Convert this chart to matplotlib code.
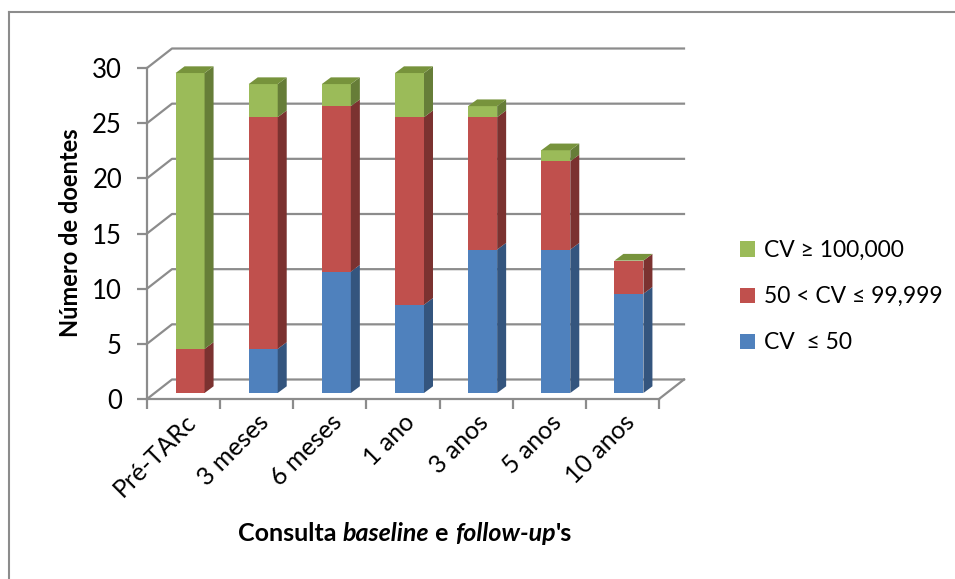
import matplotlib.pyplot as plt
import numpy as np
from matplotlib.patches import Polygon, Patch
from matplotlib.lines import Line2D

categories = ["Pré-TARc", "3 meses", "6 meses", "1 ano", "3 anos", "5 anos", "10 anos"]
cv_low = [0, 4, 11, 8, 13, 13, 9]      # CV <= 50
cv_mid = [4, 21, 15, 17, 12, 8, 3]     # 50 < CV <= 99,999
cv_high = [25, 3, 2, 4, 1, 1, 0]       # CV >= 100,000
series_labels = ["CV  ≤ 50", "50 < CV ≤ 99,999", "CV ≥ 100,000"]

front_colors = ["#4F81BD", "#C0504D", "#9BBB59"]
side_colors = ["#34557E", "#7B3230", "#667D38"]
top_color = "#77933C"
grid_color = "#8C8C8C"

plt.rcParams["font.family"] = ["Lato", "DejaVu Sans"]

W, H = 955, 579
fig = plt.figure(figsize=(W / 100, H / 100), dpi=100)
ax = fig.add_axes([147 / W, 1 - 399 / H, 512 / W, 331 / H])
ax.set_xlim(-0.5, 6.5)
ax.set_ylim(0, 30)
ax.patch.set_visible(False)

# pixel sizes of the fake 3d depth, converted to data units
px_x = 512 / 7
px_y = 331 / 30
wall_dx, wall_dy = 25 / px_x, 19.5 / px_y
bar_dx, bar_dy = 9 / px_x, 6.7 / px_y
lift = 6 / px_y
shift = 6.5 / px_x
bar_w = 29 / px_x

# back wall gridlines + left wall diagonals
for v in range(0, 31, 5):
    ax.plot([-0.5, -0.5 + wall_dx, 6.5 + wall_dx], [v, v + wall_dy, v + wall_dy],
            color=grid_color, lw=1.6, clip_on=False, zorder=1)
ax.plot([6.5, 6.5 + wall_dx], [0, wall_dy], color=grid_color, lw=1.6, clip_on=False, zorder=1)

x = np.arange(len(categories)) + shift
bottom = np.full(len(categories), lift)
for vals, fc, sc in zip([cv_low, cv_mid, cv_high], front_colors, side_colors):
    vals = np.array(vals, dtype=float)
    ax.bar(x, vals, bar_w, bottom=bottom, color=fc, lw=0, zorder=3, clip_on=False)
    for xi, b, v in zip(x, bottom, vals):
        if v == 0:
            continue
        xr = xi + bar_w / 2
        ax.add_patch(Polygon([(xr, b), (xr + bar_dx, b + bar_dy),
                              (xr + bar_dx, b + v + bar_dy), (xr, b + v)],
                             closed=True, fc=sc, lw=0, zorder=3, clip_on=False))
    bottom = bottom + vals

for xi, t in zip(x, bottom):
    xl, xr = xi - bar_w / 2, xi + bar_w / 2
    ax.add_patch(Polygon([(xl, t), (xr, t), (xr + bar_dx, t + bar_dy), (xl + bar_dx, t + bar_dy)],
                         closed=True, fc=top_color, lw=0, zorder=3, clip_on=False))

for s in ["top", "right"]:
    ax.spines[s].set_visible(False)
for s in ["left", "bottom"]:
    ax.spines[s].set_color(grid_color)
    ax.spines[s].set_linewidth(1.6)

ax.set_yticks(range(0, 31, 5))
ax.tick_params(axis="y", length=7, width=1.6, color=grid_color, pad=11, labelsize=18.5)
ax.set_xticks(np.arange(len(categories)))
ax.set_xticklabels(categories, rotation=45, ha="right", rotation_mode="anchor")
ax.set_xticks(np.arange(-0.5, len(categories)), minor=True)
ax.tick_params(axis="x", which="major", length=0, pad=8, labelsize=18)
ax.tick_params(axis="x", which="minor", length=7, width=1.6, color=grid_color)

handles = [Patch(facecolor=c, lw=0) for c in front_colors[::-1]]
fig.legend(handles, series_labels[::-1], loc="upper left",
           bbox_to_anchor=(740 / W, 1 - 240 / H), frameon=False, fontsize=16.5,
           handlelength=0.65, handleheight=0.65, handletextpad=0.4,
           labelspacing=1.1, borderpad=0, borderaxespad=0)

fig.text(71 / W, 1 - 233 / H, "Número de doentes", rotation=90, ha="center",
         va="center", fontsize=17, fontweight="bold")

# x title with italic words, laid out piece by piece
pieces = [("Consulta ", "normal"), ("baseline", "italic"), (" e ", "normal"),
          ("follow-up", "italic"), ("'s", "normal")]
renderer = fig.canvas.get_renderer()
texts = [fig.text(0, 1 - 541 / H, p, fontsize=18, fontweight="bold", style=st, va="baseline")
         for p, st in pieces]
widths = [t.get_window_extent(renderer).width for t in texts]
x0 = 405 - sum(widths) / 2
for t, w in zip(texts, widths):
    t.set_x(x0 / W)
    x0 += w

# outer chart border
fig.add_artist(Line2D([9 / W, 9 / W], [0, 1 - 12 / H], color=grid_color, lw=1.5))
fig.add_artist(Line2D([9 / W, 1], [1 - 12 / H, 1 - 12 / H], color=grid_color, lw=1.5))

fig.savefig("out.png", dpi=100)
